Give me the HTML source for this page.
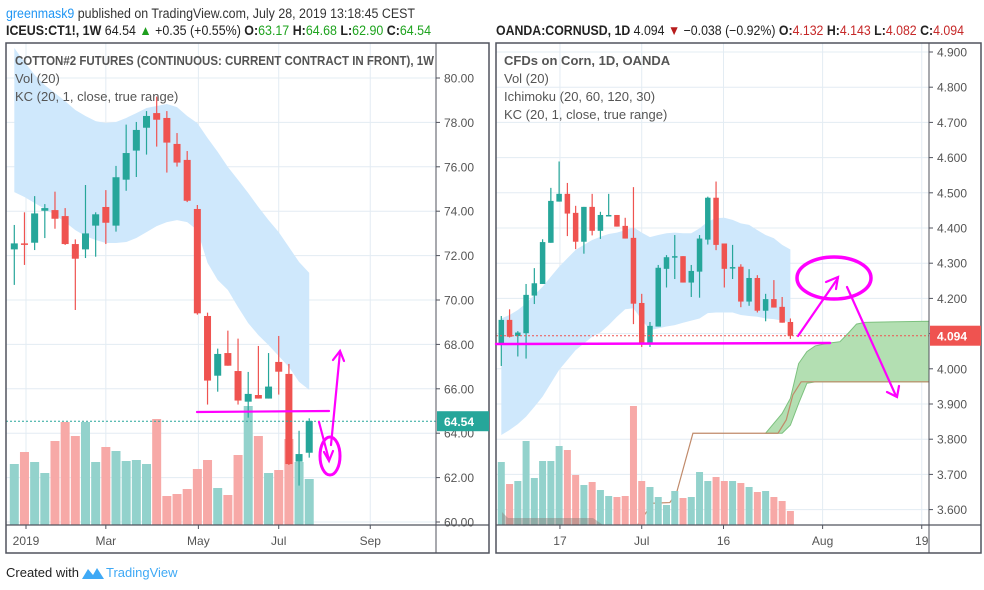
<!DOCTYPE html>
<html><head><meta charset="utf-8"><style>
html,body{margin:0;padding:0;background:#fff;width:984px;height:590px;overflow:hidden}
svg{display:block;font-family:"Liberation Sans",sans-serif}
</style></head><body>
<svg id="c" width="984" height="590" viewBox="0 0 984 590">
<text x="6" y="18" font-size="13.5" fill="#333" textLength="409" lengthAdjust="spacingAndGlyphs"><tspan fill="#2196f3">greenmask9</tspan> published on TradingView.com, July 28, 2019 13:18:45 CEST</text>
<text x="6" y="35" font-size="13.5" fill="#222" textLength="425" lengthAdjust="spacingAndGlyphs"><tspan font-weight="bold">ICEUS:CT1!, 1W</tspan> 64.54 <tspan fill="#1e9e1e">▲</tspan> +0.35 (+0.55%) <tspan font-weight="bold">O:</tspan><tspan fill="#1ea31e">63.17</tspan> <tspan font-weight="bold">H:</tspan><tspan fill="#1ea31e">64.68</tspan> <tspan font-weight="bold">L:</tspan><tspan fill="#1ea31e">62.90</tspan> <tspan font-weight="bold">C:</tspan><tspan fill="#1ea31e">64.54</tspan></text>
<text x="496" y="35" font-size="13.5" fill="#222" textLength="468" lengthAdjust="spacingAndGlyphs"><tspan font-weight="bold">OANDA:CORNUSD, 1D</tspan> 4.094 <tspan fill="#b71c1c">▼</tspan> −0.038 (−0.92%) <tspan font-weight="bold">O:</tspan><tspan fill="#c62828">4.132</tspan> <tspan font-weight="bold">H:</tspan><tspan fill="#c62828">4.143</tspan> <tspan font-weight="bold">L:</tspan><tspan fill="#c62828">4.082</tspan> <tspan font-weight="bold">C:</tspan><tspan fill="#c62828">4.094</tspan></text>
<g id="L"></g>
<g id="R"></g>
<text x="6" y="577" font-size="13" fill="#222">Created with</text>
<g>
<path d="M82 579 L88 569 L93 575 L97 568 L104 579 Z" fill="#3fa9f5"/>
<text x="106" y="577" font-size="13" fill="#3fa9f5">TradingView</text>
</g>
</svg>
<script>
// ---------- LEFT DATA (Cotton weekly) ----------
const leftOpen  =[72.28,72.55,72.58,74.02,74.05,73.78,72.52,72.28,73.35,74.19,73.35,75.42,76.73,77.76,78.42,78.20,77.03,76.31,74.10,69.28,66.59,67.61,66.80,65.42,65.72,65.56,67.21,66.67,62.72,63.12];
const leftHigh  =[73.38,73.95,74.68,74.32,74.88,74.14,72.73,75.18,73.95,74.95,76.04,77.90,78.02,78.51,79.16,78.51,77.52,76.71,74.28,69.43,67.81,68.62,68.26,66.76,67.93,67.61,68.38,67.12,64.11,64.67];
const leftLow   =[70.68,71.58,72.25,72.79,73.21,72.48,69.55,71.89,71.95,72.52,73.08,74.92,75.54,76.55,76.91,75.74,76.01,74.41,69.34,65.29,65.87,67.04,65.29,64.70,65.56,65.56,65.74,62.57,61.64,62.90];
const leftClose =[72.55,72.49,73.90,74.14,73.66,72.52,71.86,73.00,73.86,73.48,75.53,76.62,77.66,78.29,78.12,77.09,76.19,74.47,69.40,66.37,67.57,67.04,65.47,65.77,65.56,66.10,66.77,62.61,63.06,64.55];
const leftVol   =[61,73,63,52,84,103,89,103,63,78,74,64,65,61,106,29,31,36,56,65,37,30,70,119,89,52,55,86,63,46];
const leftKcUp  =[81.35,80.72,80.14,79.68,79.32,78.96,78.56,78.29,78.06,77.97,78.02,78.20,78.42,78.65,78.74,78.83,78.69,78.29,77.97,77.30,76.67,75.99,75.41,74.82,74.19,73.60,73.06,72.39,71.71,71.22];
const leftKcLo  =[74.86,74.64,74.37,74.10,73.83,73.51,73.15,72.88,72.70,72.57,72.57,72.61,72.79,73.06,73.33,73.51,73.60,73.51,73.15,71.67,70.90,70.45,69.68,68.96,68.42,67.97,67.48,66.98,66.31,65.95];
const leftTicks =[80,78,76,74,72,70,68,66,64,62,60];
const leftTimeLabels=["2019","Mar","May","Jul","Sep"];
const leftTimeIdx=[1.15,9.0,18.1,26.0,35.0];
const leftLast=64.54;

// ---------- RIGHT DATA (Corn daily) ----------
const rightOpen =[4.068,4.139,4.093,4.101,4.208,4.241,4.358,4.475,4.497,4.443,4.361,4.460,4.392,4.435,4.437,4.406,4.372,4.187,4.072,4.120,4.284,4.317,4.320,4.245,4.276,4.367,4.486,4.356,4.285,4.290,4.191,4.258,4.165,4.198,4.176,4.133];
const rightHigh =[4.150,4.169,4.107,4.241,4.286,4.368,4.514,4.589,4.528,4.463,4.460,4.497,4.446,4.497,4.437,4.429,4.516,4.213,4.133,4.295,4.323,4.380,4.320,4.295,4.380,4.489,4.532,4.356,4.352,4.297,4.283,4.266,4.213,4.252,4.204,4.143];
const rightLow  =[4.008,4.089,4.035,4.029,4.184,4.241,4.358,4.475,4.377,4.340,4.327,4.379,4.369,4.435,4.404,4.370,4.127,4.062,4.062,4.120,4.231,4.255,4.245,4.204,4.202,4.353,4.337,4.231,4.255,4.175,4.179,4.160,4.135,4.174,4.131,4.085];
const rightClose=[4.139,4.091,4.103,4.210,4.243,4.360,4.477,4.497,4.441,4.361,4.460,4.392,4.437,4.437,4.404,4.370,4.185,4.072,4.122,4.287,4.317,4.320,4.245,4.278,4.370,4.486,4.352,4.284,4.289,4.191,4.258,4.165,4.198,4.174,4.131,4.094];
const rightVol  =[63,41,44,84,47,64,64,79,75,50,40,43,35,29,28,29,119,44,38,28,20,34,27,28,53,44,48,44,44,42,38,33,34,28,24,14];
const rightKcUp =[4.143,4.153,4.167,4.186,4.210,4.233,4.262,4.290,4.314,4.338,4.352,4.366,4.375,4.383,4.387,4.394,4.402,4.387,4.374,4.380,4.385,4.387,4.385,4.385,4.399,4.418,4.428,4.429,4.423,4.413,4.409,4.394,4.380,4.371,4.352,4.339];
const rightKcLo =[3.812,3.826,3.843,3.864,3.892,3.921,3.959,3.997,4.025,4.053,4.072,4.091,4.103,4.124,4.148,4.169,4.172,4.139,4.110,4.115,4.120,4.124,4.131,4.137,4.143,4.158,4.160,4.160,4.160,4.153,4.150,4.148,4.143,4.141,4.137,4.131];
const spanBIdx  =[16.5,18.3,20.4,21.2,23.2,33.5,34.5,35.3,36.3,52];
const spanBVal  =[3.556,3.618,3.620,3.646,3.817,3.817,3.855,3.926,3.963,3.963];
const cloudIdx  =[32,33,34,35,36,37,38,39,40,41,42,43,44,52];
const cloudA    =[3.817,3.845,3.873,3.916,4.015,4.049,4.065,4.070,4.074,4.077,4.101,4.127,4.132,4.135];
const cloudB    =[3.817,3.817,3.817,3.840,3.902,3.959,3.963,3.963,3.963,3.963,3.963,3.963,3.963,3.963];
const rightTicks=[4.9,4.8,4.7,4.6,4.5,4.4,4.3,4.2,4.1,4.0,3.9,3.8,3.7,3.6];
const rightTimeLabels=["17","Jul","16","Aug","19"];
const rightTimeIdx=[7.1,17.0,26.9,38.9,50.9];
const rightLast=4.094;

const NS="http://www.w3.org/2000/svg";
function mk(parent,tag,attrs,text){const e=document.createElementNS(NS,tag);for(const k in attrs)e.setAttribute(k,attrs[k]);if(text!==undefined)e.textContent=text;parent.appendChild(e);return e;}

const UP="#26a69a",DN="#ef5350",VUP="#93d2cc",VDN="#f7a9a7";

function drawPanel(g,cfg){
  const {x0,x1,ax,y0,y1,yb,xf,yf,open,high,low,close,vol,kcUp,kcLo,ticks,dec,tLab,tIdx,last,bw,vw,lastColor}=cfg;
  ticks.forEach(t=>{const l=mk(g,'line',{x1:x0,x2:ax,y1:yf(t),y2:yf(t),stroke:'#e3ecf3','stroke-width':1});
    
    });
  tIdx.forEach(i=>{const l=mk(g,'line',{x1:xf(i),x2:xf(i),y1:y0,y2:yb,stroke:'#e3ecf3','stroke-width':1});
    
    });
  let pts=kcUp.map((v,i)=>xf(i)+','+yf(v)).concat(kcLo.map((v,i)=>xf(i)+','+yf(v)).reverse());
  const band=mk(g,'polygon',{points:pts.join(' '),fill:'#cfe8fc'});
  
  
  if(cfg.extra)cfg.extra(g);
  vol.forEach((v,i)=>{const up=close[i]>=open[i];
    const r=mk(g,'rect',{x:xf(i)-vw/2,y:yb-v,width:vw,height:v,fill:up?VUP:VDN});
    
    });
  if(cfg.extra2)cfg.extra2(g);
  open.forEach((o,i)=>{const c=close[i],up=c>=o,col=up?UP:DN,x=xf(i);
    const cg=mk(g,'g',{});
    
    
    mk(cg,'line',{x1:x,x2:x,y1:yf(high[i]),y2:yf(low[i]),stroke:col,'stroke-width':1.2});
    const t=Math.min(yf(o),yf(c)),h=Math.max(1.5,Math.abs(yf(o)-yf(c)));
    mk(cg,'rect',{x:x-bw/2,y:t,width:bw,height:h,fill:col});});
  const lp=mk(g,'line',{x1:x0,x2:ax,y1:yf(last),y2:yf(last),stroke:lastColor,'stroke-width':1,'stroke-dasharray':'2,2'});
  
  
  mk(g,'rect',{x:x0,y:y0,width:x1-x0,height:y1-y0,fill:'none',stroke:'#50535e','stroke-width':1.5});
  mk(g,'line',{x1:ax,x2:ax,y1:y0,y2:y1,stroke:'#50535e','stroke-width':1});
  mk(g,'line',{x1:x0,x2:x1,y1:yb,y2:yb,stroke:'#50535e','stroke-width':1.2});
  ticks.forEach(t=>{const y=yf(t);
    mk(g,'line',{x1:ax,x2:ax+4,y1:y,y2:y,stroke:'#50535e'});
    const tx=mk(g,'text',{x:ax+8,y:y+4.5,'font-size':12,fill:'#555'},t.toFixed(dec));
    
    });
  tIdx.forEach((i,k)=>{const x=xf(i);
    mk(g,'line',{x1:x,x2:x,y1:yb,y2:yb+4,stroke:'#50535e'});
    const tx=mk(g,'text',{x:x,y:yb+20,'font-size':12,fill:'#555','text-anchor':'middle'},tLab[k]);
    
    });
  const tg=mk(g,'g',{});
  
  
  mk(tg,'rect',{x:ax+1,y:yf(last)-10,width:x1-ax-1,height:20,fill:lastColor});
  mk(tg,'text',{x:ax+8,y:yf(last)+5,'font-size':12,'font-weight':'bold',fill:'#fff'},last.toFixed(dec));
}

const L=document.getElementById('L'),R=document.getElementById('R');
const xL=i=>14.3+i*10.17, yL=p=>78+(80-p)*22.2;
const xR=i=>501.3+i*8.26, yR=p=>52+(4.9-p)*352;

drawPanel(L,{x0:6,x1:489,ax:436,y0:43,y1:553,yb:525,xf:xL,yf:yL,open:leftOpen,high:leftHigh,low:leftLow,close:leftClose,vol:leftVol,kcUp:leftKcUp,kcLo:leftKcLo,ticks:leftTicks,dec:2,tLab:leftTimeLabels,tIdx:leftTimeIdx,last:leftLast,bw:7,vw:9,lastColor:'#26a69a'});

drawPanel(R,{x0:496,x1:981,ax:929,y0:43,y1:553,yb:525,xf:xR,yf:yR,open:rightOpen,high:rightHigh,low:rightLow,close:rightClose,vol:rightVol,kcUp:rightKcUp,kcLo:rightKcLo,ticks:rightTicks,dec:3,tLab:rightTimeLabels,tIdx:rightTimeIdx,last:rightLast,bw:5.5,vw:7,lastColor:'#ef5350',
 extra:function(g){
  const cp=cloudA.map((v,i)=>Math.min(929,xR(cloudIdx[i]))+','+yR(v)).concat(cloudB.map((v,i)=>Math.min(929,xR(cloudIdx[i]))+','+yR(v)).reverse());
  const cl=mk(g,'polygon',{points:cp.join(' '),fill:'#b3dfb2',stroke:'#7cc17e','stroke-width':1});
  
  
  const sb=mk(g,'polyline',{points:spanBIdx.map((v,i)=>Math.min(929,xR(v))+','+Math.min(525,yR(spanBVal[i]))).join(' '),fill:'none',stroke:'#c08a6a','stroke-width':1.2});
  
  
 },
 extra2:function(g){
  const sh=mk(g,'polygon',{points:'502,512 508,518 593,518 603,525 502,525',fill:'#8a7e78',opacity:0.45});
  
  
 }});

const legL=[["COTTON#2 FUTURES (CONTINUOUS: CURRENT CONTRACT IN FRONT), 1W",1,419],["Vol (20)",0,0],["KC (20, 1, close, true range)",0,0]];
legL.forEach((t,i)=>{const a={x:15,y:65+i*18,'font-size':13,fill:'#555','font-weight':t[1]?'bold':'normal'};
  if(t[2]){a.textLength=t[2];a.lengthAdjust='spacingAndGlyphs';}
  const tx=mk(L,'text',a,t[0]);
  
  });
const legR=[["CFDs on Corn, 1D, OANDA",1],["Vol (20)",0],["Ichimoku (20, 60, 120, 30)",0],["KC (20, 1, close, true range)",0]];
legR.forEach((t,i)=>{const tx=mk(R,'text',{x:504,y:65+i*18,'font-size':13,fill:'#555','font-weight':t[1]?'bold':'normal'},t[0]);
  
  });

const M='#ff00ff';
const an=mk(document.getElementById('c'),'g',{stroke:M,fill:'none','stroke-width':2.2,'stroke-linecap':'round'});


mk(an,'line',{x1:197,y1:412,x2:329,y2:411});
mk(an,'polyline',{points:'319,422 329,460'});
mk(an,'polyline',{points:'324,452 329,461 333,451'});
mk(an,'ellipse',{cx:330,cy:456,rx:10,ry:19,'stroke-width':3});
mk(an,'polyline',{points:'331,445 340,352'});
mk(an,'polyline',{points:'333,360 340,351 344,361'});
mk(an,'line',{x1:496,y1:344,x2:830,y2:343,'stroke-width':2.5});
mk(an,'polyline',{points:'798,336 838,278'});
mk(an,'polyline',{points:'826,282 838,277 836,289'});
mk(an,'ellipse',{cx:834,cy:278,rx:37,ry:21,'stroke-width':3.5});
mk(an,'polyline',{points:'847,287 896,396'});
mk(an,'polyline',{points:'887,392 897,397 899,386'});
</script>
</body></html>
